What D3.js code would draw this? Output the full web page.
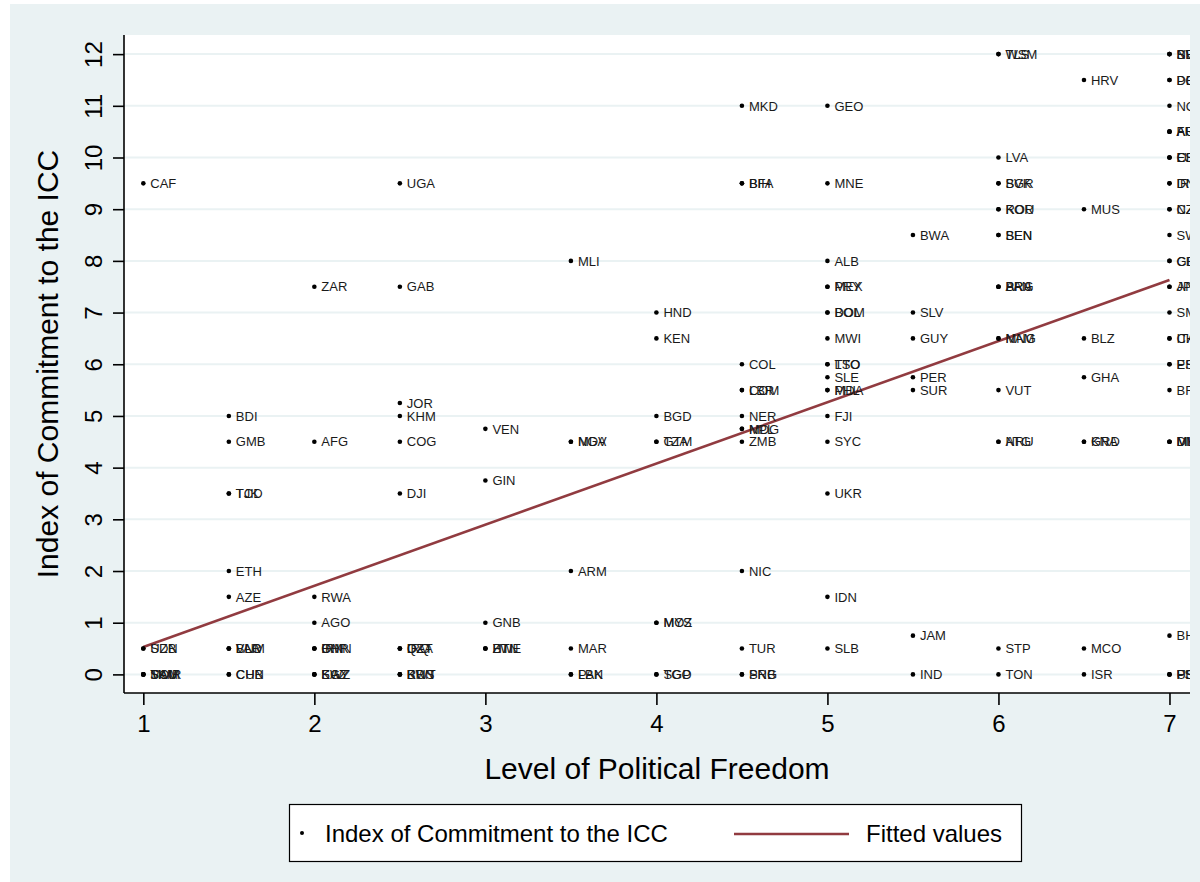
<!DOCTYPE html>
<html>
<head>
<meta charset="utf-8">
<script src="https://cdn.jsdelivr.net/npm/d3@7"></script>
<style>
  body { margin: 0; background: #ffffff; }
  text { font-family: "Liberation Sans", Arial, Helvetica, sans-serif; }
</style>
</head>
<body>
<svg id="drawing_region"></svg>
<script>
// country code, ICC commitment index -- one array per political freedom level
const free1 = [["CAF", 9.5], ["UZB", 0.5], ["SDN", 0.5], ["SAU", 0], ["SOM", 0], ["TKM", 0], ["MMR", 0]];
const free1_5 = [["BDI", 5], ["GMB", 4.5], ["TCD", 3.5], ["TJK", 3.5], ["ETH", 2], ["AZE", 1.5],
    ["BLR", 0.5], ["LAO", 0.5], ["VNM", 0.5], ["CHN", 0], ["CUB", 0]];
const free2 = [["ZAR", 7.5], ["AFG", 4.5], ["RWA", 1.5], ["AGO", 1], ["IRN", 0.5], ["OMN", 0.5],
    ["BHR", 0.5], ["SWZ", 0], ["KAZ", 0], ["EGY", 0]];
const free2_5 = [["UGA", 9.5], ["GAB", 7.5], ["JOR", 5.25], ["KHM", 5], ["COG", 4.5], ["DJI", 3.5],
    ["QAT", 0.5], ["DZA", 0.5], ["IRQ", 0.5], ["BRN", 0], ["KWT", 0], ["RUS", 0]];
const free3 = [["VEN", 4.75], ["GIN", 3.75], ["GNB", 1], ["ZWE", 0.5], ["BTN", 0.5], ["HTI", 0.5]];
const free3_5 = [["MLI", 8], ["NGA", 4.5], ["MDV", 4.5], ["ARM", 2], ["MAR", 0.5], ["PAK", 0], ["LBN", 0]];
const free4 = [["HND", 7], ["KEN", 6.5], ["BGD", 5], ["GTM", 4.5], ["TZA", 4.5], ["MOZ", 1], ["MYS", 1],
    ["SGP", 0], ["TGO", 0]];
const free4_5 = [["MKD", 11], ["BFA", 9.5], ["BIH", 9.5], ["COL", 6], ["LBR", 5.5], ["COM", 5.5],
    ["NER", 5], ["MDG", 4.75], ["NPL", 4.75], ["ZMB", 4.5], ["NIC", 2], ["TUR", 0.5], ["SRB", 0], ["PNG", 0]];
const free5 = [["GEO", 11], ["MNE", 9.5], ["ALB", 8], ["MEX", 7.5], ["PRY", 7.5], ["BOL", 7], ["DOM", 7],
    ["MWI", 6.5], ["LSO", 6], ["TTO", 6], ["SLE", 5.75], ["PHL", 5.5], ["MDA", 5.5], ["FJI", 5],
    ["SYC", 4.5], ["UKR", 3.5], ["IDN", 1.5], ["SLB", 0.5]];
const free5_5 = [["BWA", 8.5], ["SLV", 7], ["GUY", 6.5], ["PER", 5.75], ["SUR", 5.5], ["JAM", 0.75], ["IND", 0]];
const free6 = [["WSM", 12], ["TLS", 12], ["LVA", 10], ["BGR", 9.5], ["SVK", 9.5], ["KOR", 9], ["ROU", 9],
    ["BEN", 8.5], ["SEN", 8.5], ["ARG", 7.5], ["BRA", 7.5], ["PAN", 7.5], ["NAM", 6.5], ["MNG", 6.5],
    ["VUT", 5.5], ["ATG", 4.5], ["NRU", 4.5], ["STP", 0.5], ["TON", 0]];
const free6_5 = [["HRV", 11.5], ["MUS", 9], ["BLZ", 6.5], ["GHA", 5.75], ["GRD", 4.5], ["KNA", 4.5],
    ["MCO", 0.5], ["ISR", 0]];
const free7 = [["SVN", 12], ["BEL", 12], ["NLD", 12], ["DEU", 11.5], ["POL", 11.5], ["NOR", 11],
    ["FRA", 10.5], ["AUS", 10.5], ["AUT", 10.5], ["CRI", 10], ["ESP", 10], ["LUX", 10],
    ["DNK", 9.5], ["IRL", 9.5], ["NZL", 9], ["CZE", 9], ["SWE", 8.5], ["GBR", 8], ["CHE", 8],
    ["AND", 7.5], ["JPN", 7.5], ["SMR", 7], ["CHL", 6.5], ["ITA", 6.5], ["PRT", 6], ["EST", 6],
    ["BRB", 5.5], ["MLT", 4.5], ["MHL", 4.5], ["DMA", 4.5], ["BHS", 0.75], ["USA", 0], ["PLW", 0], ["FSM", 0]];

const freedomLevels = [1, 1.5, 2, 2.5, 3, 3.5, 4, 4.5, 5, 5.5, 6, 6.5, 7];
const columns = [free1, free1_5, free2, free2_5, free3, free3_5, free4, free4_5, free5, free5_5, free6, free6_5, free7];

// linear fit end points
const fitted = [{ x: 1, y: 0.53 }, { x: 7, y: 7.63 }];

const xTicks = [1, 2, 3, 4, 5, 6, 7];
const yTicks = [0, 1, 2, 3, 4, 5, 6, 7, 8, 9, 10, 11, 12];

const data = [];
columns.forEach((col, i) => {
    col.forEach(d => data.push({ code: d[0], x: freedomLevels[i], y: d[1] }));
});

const width = 1200, height = 882;
const plot = { left: 124, right: 1190, top: 35, bottom: 693 };

const svg = d3.select('#drawing_region')
    .attr('width', width)
    .attr('height', height);

// graph region background
svg.append('rect')
    .attr('x', 10).attr('y', 4)
    .attr('width', width - 10).attr('height', height - 4)
    .attr('fill', '#eaf2f3');

// plot region
svg.append('rect')
    .attr('x', plot.left).attr('y', plot.top)
    .attr('width', plot.right - plot.left).attr('height', plot.bottom - plot.top)
    .attr('fill', '#ffffff');

svg.append('clipPath').attr('id', 'clip')
    .append('rect')
    .attr('x', plot.left).attr('y', plot.top)
    .attr('width', plot.right - plot.left).attr('height', plot.bottom - plot.top);

const xscale = d3.scaleLinear().domain([0.887, 7.12]).range([plot.left, plot.right]);
const yscale = d3.scaleLinear().domain([-0.36, 12.37]).range([plot.bottom, plot.top]);

// grid lines
svg.append('g')
    .selectAll('line')
    .data(yTicks)
    .enter()
    .append('line')
    .attr('x1', plot.left).attr('x2', plot.right)
    .attr('y1', d => yscale(d)).attr('y2', d => yscale(d))
    .attr('stroke', '#eaf2f3')
    .attr('stroke-width', 2);

// axes
const xaxis = d3.axisBottom(xscale).tickValues(xTicks).tickSize(12).tickPadding(6).tickFormat(d3.format('d'));
const yaxis = d3.axisLeft(yscale).tickValues(yTicks).tickSize(11).tickFormat(d3.format('d'));

const xaxis_group = svg.append('g')
    .attr('transform', `translate(0, ${plot.bottom})`)
    .call(xaxis);
xaxis_group.select('.domain').attr('d', `M${plot.left},0H${plot.right}`);

const yaxis_group = svg.append('g')
    .attr('transform', `translate(${plot.left}, 0)`)
    .call(yaxis);
yaxis_group.select('.domain').attr('d', `M0,${plot.top}V${plot.bottom}`);

[xaxis_group, yaxis_group].forEach(g => {
    g.select('.domain').attr('stroke', '#000').attr('stroke-width', 1.6);
    g.selectAll('.tick line').attr('stroke', '#000').attr('stroke-width', 1.6);
    g.selectAll('.tick text')
        .attr('fill', '#000')
        .attr('font-size', '24px')
        .attr('font-family', '"Liberation Sans", Arial, sans-serif');
});
xaxis_group.selectAll('.tick text').attr('dy', null).attr('y', 39);
yaxis_group.selectAll('.tick text')
    .attr('x', null).attr('dy', null)
    .attr('text-anchor', 'middle')
    .attr('transform', 'translate(-22, 0) rotate(-90)')
    .attr('y', 0);

// points and labels
const marks = svg.append('g').attr('clip-path', 'url(#clip)');

// fitted line
marks.append('path')
    .datum(fitted)
    .attr('d', d3.line().x(d => xscale(d.x)).y(d => yscale(d.y)))
    .attr('fill', 'none')
    .attr('stroke', '#913b40')
    .attr('stroke-width', 2.6);

marks.selectAll('circle')
    .data(data)
    .enter()
    .append('circle')
    .attr('cx', d => xscale(d.x))
    .attr('cy', d => yscale(d.y))
    .attr('r', 2.3)
    .attr('fill', '#000');

marks.selectAll('text.lbl')
    .data(data)
    .enter()
    .append('text')
    .attr('class', 'lbl')
    .attr('x', d => xscale(d.x) + 7)
    .attr('y', d => yscale(d.y) + 4.7)
    .attr('font-size', '13px')
    .attr('fill', '#1a1a1a')
    .text(d => d.code);

// axis titles
svg.append('text')
    .attr('x', (plot.left + plot.right) / 2)
    .attr('y', 779)
    .attr('text-anchor', 'middle')
    .attr('font-size', '30px')
    .text('Level of Political Freedom');

svg.append('text')
    .attr('transform', `translate(58, ${(plot.top + plot.bottom) / 2}) rotate(-90)`)
    .attr('text-anchor', 'middle')
    .attr('font-size', '30px')
    .text('Index of Commitment to the ICC');

// legend
const legend = svg.append('g');
legend.append('rect')
    .attr('x', 289.5).attr('y', 804.5)
    .attr('width', 732).attr('height', 57)
    .attr('fill', '#fff')
    .attr('stroke', '#000')
    .attr('stroke-width', 1.2);
legend.append('circle')
    .attr('cx', 302).attr('cy', 833).attr('r', 2)
    .attr('fill', '#000');
legend.append('text')
    .attr('x', 325).attr('y', 842)
    .attr('font-size', '24px')
    .text('Index of Commitment to the ICC');
legend.append('line')
    .attr('x1', 734).attr('x2', 849)
    .attr('y1', 834).attr('y2', 834)
    .attr('stroke', '#913b40')
    .attr('stroke-width', 2.6);
legend.append('text')
    .attr('x', 866).attr('y', 842)
    .attr('font-size', '24px')
    .text('Fitted values');
</script>
</body>
</html>
